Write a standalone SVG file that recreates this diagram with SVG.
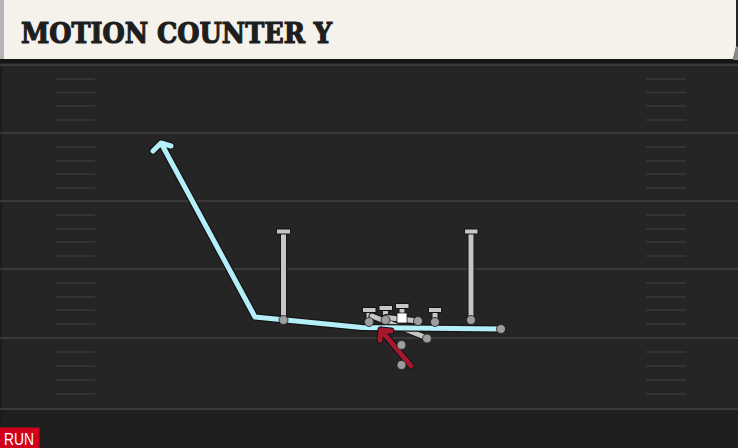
<svg xmlns="http://www.w3.org/2000/svg" width="738" height="448" viewBox="0 0 738 448">
<defs>
<style>
.yard{stroke:#393939;stroke-width:2}
.hash{stroke:#383838;stroke-width:1.6}
.out{fill:none;stroke:#141414;stroke-linecap:round;stroke-linejoin:round}
.grey{fill:none;stroke:#c6c6c6;stroke-width:5;stroke-linecap:round;stroke-linejoin:round}
.blue{fill:none;stroke:#b4eef9;stroke-width:5;stroke-linecap:round;stroke-linejoin:round}
.red{fill:none;stroke:#a5172d;stroke-width:5;stroke-linecap:round;stroke-linejoin:round}
.dot{fill:#9d9d9d;stroke:#1a1a1a;stroke-width:0.8}
.bar{fill:#c6c6c6;stroke:#141414;stroke-width:1}
</style>
</defs>
<rect x="0" y="0" width="738" height="448" fill="#252525"/>
<rect x="0" y="409" width="738" height="39" fill="#1f1f1f"/>
<rect x="0" y="60" width="2" height="388" fill="#1c1c1c"/>
<g id="field">
<line class="yard" x1="0" y1="65" x2="738" y2="65"/>
<line class="yard" x1="0" y1="133" x2="738" y2="133"/>
<line class="yard" x1="0" y1="201" x2="738" y2="201"/>
<line class="yard" x1="0" y1="269" x2="738" y2="269"/>
<line class="yard" x1="0" y1="338" x2="738" y2="338"/>
<line class="yard" x1="0" y1="409" x2="738" y2="409"/>
<g id="hashes">
<path class="hash" d="M56 79H95M56 92.5H95M56 106H95M56 120H95M56 147H95M56 161H95M56 174H95M56 188H95M56 215H95M56 229H95M56 242H95M56 256H95M56 283H95M56 297H95M56 310H95M56 324H95M56 352H95M56 366H95M56 380H95M56 394H95"/>
<path class="hash" d="M646 79H686M646 92.5H686M646 106H686M646 120H686M646 147H686M646 161H686M646 174H686M646 188H686M646 215H686M646 229H686M646 242H686M646 256H686M646 283H686M646 297H686M646 310H686M646 324H686M646 352H686M646 366H686M646 380H686M646 394H686"/>
</g>
</g>
<g id="header">
<rect x="0" y="59" width="738" height="4" fill="#161616"/>
<path d="M0 0H736V47L733 59H0Z" fill="#f5f2eb"/>
<path d="M736 47L738 46V60H733Z" fill="#8a8a8a"/>
<rect x="0" y="0" width="4" height="59" fill="#b4b4b4"/>
<text x="21" y="43" font-family="'DejaVu Serif', 'Liberation Serif', serif" font-weight="bold" font-size="28" fill="#1e1e1e" stroke="#1e1e1e" stroke-width="1.2" textLength="311" lengthAdjust="spacingAndGlyphs">MOTION COUNTER Y</text>
</g>
<g id="connectors">
<g id="wr-left-route">
<path class="out" stroke-width="7" d="M283.5 320V232"/>
<path class="grey" d="M283.5 320V232"/>
<rect class="bar" x="276.5" y="229" width="14" height="5"/>
</g>
<g id="wr-right-route">
<path class="out" stroke-width="7" d="M471 320V232"/>
<path class="grey" d="M471 320V232"/>
<rect class="bar" x="464.5" y="229" width="13.5" height="5"/>
</g>
<g id="ol-blocks">
<path class="out" stroke-width="7" d="M369 322V310M385.5 320V308M402 318V306M435 322V310"/>
<path class="grey" d="M369 322V310M385.5 320V308M402 318V306M435 322V310"/>
<rect class="bar" x="362.5" y="307.5" width="13.5" height="5"/>
<rect class="bar" x="379" y="305.5" width="13.5" height="5"/>
<rect class="bar" x="395.5" y="303.5" width="13.5" height="5"/>
<rect class="bar" x="428.5" y="307.5" width="13" height="5"/>
</g>
<g id="pulls">
<path class="out" stroke-width="7" d="M372 316L427 338M386 317.5L418 321"/>
<path class="grey" d="M372 316L427 338M386 317.5L418 321"/>
</g>
<g id="y-route">
<path class="out" stroke-width="7.5" d="M501 329L362 327.5L255 317L161 143M153 151L161 143L171 146"/>
<path class="blue" d="M501 329L362 327.5L255 317L161 143M153 151L161 143L171 146"/>
</g>
<g id="rb-path">
<path class="out" stroke-width="7" d="M411 366L381 330M380 340L381 330L391 331"/>
<path class="red" d="M411 366L381 330M380 340L381 330L391 331"/>
</g>
</g>
<g id="players">
<circle id="wr-left" class="dot" cx="283.5" cy="320" r="4.5"/>
<circle id="wr-right" class="dot" cx="471" cy="320" r="4.5"/>
<circle id="lt" class="dot" cx="369" cy="322" r="4.5"/>
<circle id="lg" class="dot" cx="385.5" cy="320" r="4.5"/>
<rect id="c" x="397" y="313" width="10" height="10" fill="#ffffff" stroke="#1a1a1a" stroke-width="0.8"/>
<circle id="rg" class="dot" cx="418" cy="321" r="4.5"/>
<circle id="rt" class="dot" cx="435" cy="322" r="4.5"/>
<circle id="pull-end" class="dot" cx="427" cy="338.5" r="4.5"/>
<circle id="y" class="dot" cx="501" cy="329" r="4.5"/>
<circle id="qb" class="dot" cx="401.5" cy="345" r="4.5"/>
<circle id="rb" class="dot" cx="401.5" cy="365" r="4.5"/>
</g>
<g id="tag">
<rect x="0" y="427.5" width="39.5" height="20.5" fill="#d0021b"/>
<text x="4" y="444.5" font-family="'Liberation Sans', Arial, sans-serif" font-size="16" fill="#ffffff" textLength="30" lengthAdjust="spacingAndGlyphs">RUN</text>
</g>
</svg>
